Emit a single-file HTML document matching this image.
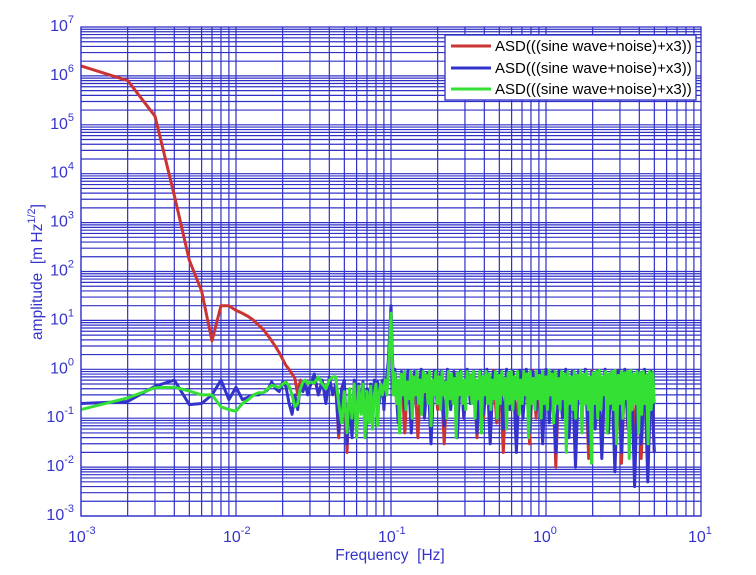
<!DOCTYPE html>
<html><head><meta charset="utf-8"><style>
html,body{margin:0;padding:0;background:#fff;width:756px;height:575px;overflow:hidden}
svg{display:block;font-family:"Liberation Sans",sans-serif}
text{white-space:pre}
</style></head><body>
<svg id="chart" width="756" height="575" viewBox="0 0 756 575" xmlns="http://www.w3.org/2000/svg">
<g id="grid"></g>
<g id="series"></g>
<rect x="81" y="27" width="620" height="489" fill="none" stroke="#3030c8" stroke-width="1.3"/>
<g id="ticks" fill="#3434cc"></g>
<text x="390" y="560" text-anchor="middle" font-size="15.5" fill="#3434cc">Frequency  [Hz]</text>
<text transform="translate(42,272) rotate(-90)" text-anchor="middle" font-size="15.5" fill="#3434cc">amplitude  [m Hz<tspan dy="-7" font-size="11">1/2</tspan><tspan dy="7">]</tspan></text>
<g>
<rect x="445" y="35" width="251" height="65" fill="#fff" stroke="#3030c8" stroke-width="1.3"/>
<line x1="451" y1="46" x2="491" y2="46" stroke="#cc3333" stroke-width="3"/>
<text x="495" y="51" font-size="15" fill="#000">ASD(((sine wave+noise)+x3))</text>
<line x1="451" y1="68" x2="491" y2="68" stroke="#3333cc" stroke-width="3"/>
<text x="495" y="73" font-size="15" fill="#000">ASD(((sine wave+noise)+x3))</text>
<line x1="451" y1="89" x2="491" y2="89" stroke="#33e033" stroke-width="3"/>
<text x="495" y="94" font-size="15" fill="#000">ASD(((sine wave+noise)+x3))</text>
</g>
</svg>
<script>
const xDecades=[-3,-2,-1,0,1];
const yDecades=[-3,-2,-1,0,1,2,3,4,5,6,7];
// low-frequency bins in mHz
const lowF=[1,2,3,4,5,6,7,8,9,10,11,12,13,14,15,16,17,18,19,20,21,22,23,24,25,26,27,28,29,30,32,34,36,38,40,42,44,46,48,50,52,54,56,58,60,62,64,66,68,70,72,74,76,78,80,82,84,86,88,90,92,94,96,98,100,102,104];
const redLow=[1.6e6,8e5,1.5e5,3.6e3,170,40,3.8,20,20,16,14,12,10,8,6.5,5,3.8,2.9,2.2,1.6,1.2,1.0,0.8,0.65,0.3,0.6,0.45,0.5,0.35,0.45,0.7,0.3,0.55,0.25,0.6,0.35,0.45,0.04,0.35,0.5,0.02,0.35,0.05,0.55,0.1,0.45,0.2,0.5,0.08,0.35,0.25,0.45,0.1,0.5,0.35,0.5,0.25,0.35,0.55,0.2,0.45,0.6,1.2,4,15,1.8,0.35];
const blueLow=[0.2,0.22,0.45,0.6,0.19,0.2,0.3,0.6,0.24,0.43,0.24,0.27,0.3,0.3,0.33,0.38,0.55,0.4,0.35,0.55,0.45,0.2,0.12,0.3,0.15,0.45,0.35,0.5,0.3,0.45,0.8,0.3,0.6,0.2,0.7,0.3,0.5,0.05,0.4,0.6,0.03,0.3,0.04,0.6,0.08,0.5,0.15,0.55,0.1,0.4,0.2,0.5,0.12,0.6,0.3,0.55,0.2,0.4,0.6,0.15,0.5,0.7,1.5,5,20,2,0.4];
const greenLow=[0.15,0.26,0.42,0.43,0.36,0.3,0.3,0.17,0.15,0.14,0.2,0.24,0.3,0.33,0.33,0.4,0.47,0.45,0.42,0.5,0.55,0.45,0.3,0.17,0.2,0.4,0.55,0.6,0.5,0.55,0.53,0.7,0.5,0.4,0.6,0.7,0.7,0.2,0.08,0.35,0.05,0.4,0.1,0.5,0.04,0.45,0.12,0.5,0.04,0.35,0.08,0.45,0.06,0.3,0.5,0.07,0.35,0.5,0.3,0.45,0.6,0.3,0.9,3,14,1.5,0.3];
// dense band 0.106 Hz .. 5 Hz (samples spread evenly in log frequency)
const denseStart=0.106, denseEnd=5;
const redDense=[0.9,0.1,0.8,0.05,0.9,0.3,0.85,0.04,0.9,0.2,0.8,0.08,0.9,0.15,0.85,0.03,0.9,0.2,0.8,0.06,0.95,0.1,0.8,0.25,0.9,0.04,0.85,0.1,0.9,0.2,0.95,0.08,0.85,0.02,0.9,0.15,0.9,0.05,0.85,0.2,0.9,0.03,0.95,0.1,0.85,0.06,0.9,0.15,0.9,0.01,0.85,0.12,0.95,0.05,0.9,0.03,0.85,0.2,0.9,0.015,0.95,0.08,0.9,0.02,0.85,0.1,0.9,0.04,0.95,0.012,0.9,0.06,0.85,0.03,0.95,0.015,0.9,0.08,0.9,0.02];
const blueDense=[1.0,0.08,0.9,0.15,0.95,0.05,0.9,0.2,1.0,0.1,0.85,0.03,0.95,0.2,0.9,0.07,1.0,0.15,0.9,0.04,0.95,0.1,1.0,0.2,0.9,0.05,0.95,0.12,1.0,0.03,0.9,0.2,0.95,0.06,1.0,0.15,0.9,0.02,0.95,0.1,1.0,0.05,0.9,0.15,0.95,0.03,1.0,0.08,0.9,0.02,0.95,0.1,1.0,0.04,0.9,0.01,0.95,0.12,1.0,0.03,0.9,0.06,0.95,0.015,1.0,0.05,0.9,0.008,0.95,0.02,1.0,0.06,0.9,0.004,0.95,0.03,1.0,0.005,0.9,0.02];
const greenDense=[0.85,0.2,0.6,0.05,0.8,0.3,0.9,0.15,0.55,0.25,0.9,0.1,0.7,0.3,0.9,0.2,0.6,0.12,0.9,0.35,0.75,0.2,0.9,0.07,0.6,0.3,0.9,0.2,0.7,0.15,0.9,0.3,0.55,0.1,0.9,0.25,0.8,0.2,0.65,0.04,0.85,0.3,0.9,0.2,0.6,0.15,0.9,0.3,0.75,0.2,0.9,0.1,0.6,0.25,0.9,0.05,0.7,0.3,0.9,0.2,0.8,0.15,0.6,0.25,0.9,0.1,0.75,0.2,0.9,0.3,0.65,0.06,0.85,0.2,0.9,0.15,0.7,0.25,0.9,0.12,0.6,0.2,0.9,0.3,0.8,0.04,0.9,0.2,0.65,0.15,0.9,0.25,0.75,0.1,0.9,0.2,0.7,0.15,0.95,0.3,0.8,0.08,0.9,0.2,0.65,0.15,0.9,0.25,0.8,0.02,0.9,0.2,0.7,0.15,0.9,0.1,0.75,0.25,0.95,0.05,0.8,0.2,0.9,0.15,0.7,0.012,0.85,0.2,0.9,0.1,0.95,0.15,0.7,0.3,0.9,0.05,0.8,0.2,0.9,0.15,0.95,0.03,0.75,0.2,0.9,0.1,0.85,0.25,0.9,0.015,0.95,0.15,0.8,0.2,0.9,0.05,0.85,0.12,0.9,0.2,0.75,0.03,0.9,0.15,0.85,0.2];

const L=81,R=701,T=27,B=516;
const xMin=-3,xMax=1,yMin=-3,yMax=7;
function X(f){return L+(Math.log10(f)-xMin)/(xMax-xMin)*(R-L);}
function Y(v){return B-(Math.log10(v)-yMin)/(yMax-yMin)*(B-T);}
const NS="http://www.w3.org/2000/svg";
const grid=document.getElementById('grid');
function line(x1,y1,x2,y2,name){
  const l=document.createElementNS(NS,'line');
  l.setAttribute('x1',x1);l.setAttribute('y1',y1);l.setAttribute('x2',x2);l.setAttribute('y2',y2);
  l.setAttribute('stroke','#3030c8');l.setAttribute('stroke-width','1.2');
  
  
  grid.appendChild(l);
}
for(let i=0;i<xDecades.length-1;i++){for(let m=1;m<10;m++){const x=X(m*Math.pow(10,xDecades[i]));line(x,T,x,B,'x-grid-line');}}
for(let i=0;i<yDecades.length-1;i++){for(let m=1;m<10;m++){const y=Y(m*Math.pow(10,yDecades[i]));line(L,y,R,y,'y-grid-line');}}
const ticks=document.getElementById('ticks');
function pow10Label(x,y,e,anchorRight,name){
  const t=document.createElementNS(NS,'text');
  t.setAttribute('font-size','16');
  
  
  t.innerHTML='10<tspan dy="-8" font-size="11">'+e+'</tspan>';
  t.setAttribute('x',x);t.setAttribute('y',y);
  if(anchorRight)t.setAttribute('text-anchor','end');
  ticks.appendChild(t);
}
yDecades.forEach(e=>pow10Label(74,Y(Math.pow(10,e))+4,e,true,'y-tick-label'));
xDecades.forEach(e=>pow10Label(X(Math.pow(10,e))-13,542,e,false,'x-tick-label'));

function buildSeries(low,dense){
  const pts=[];
  lowF.forEach((f,i)=>pts.push([f/1000,low[i]]));
  const n=dense.length;
  dense.forEach((v,i)=>{const f=denseStart*Math.pow(denseEnd/denseStart,i/(n-1));pts.push([f,v]);});
  return pts;
}
const seriesLayer=document.getElementById('series');
function draw(low,dense,color,name){
  const pts=buildSeries(low,dense);
  const p=document.createElementNS(NS,'polyline');
  p.setAttribute('points',pts.map(d=>X(d[0]).toFixed(1)+','+Y(d[1]).toFixed(1)).join(' '));
  p.setAttribute('fill','none');p.setAttribute('stroke',color);p.setAttribute('stroke-width','3');
  p.setAttribute('stroke-linejoin','round');
  
  
  seriesLayer.appendChild(p);
}
draw(redLow,redDense,'#cc3333','series-red');
draw(blueLow,blueDense,'#3333cc','series-blue');
draw(greenLow,greenDense,'#33e033','series-green');
</script>
</body></html>
